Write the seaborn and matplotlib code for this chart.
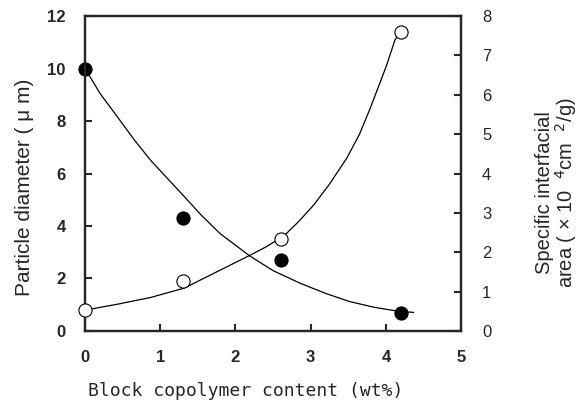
import numpy as np
import pandas as pd
import seaborn as sns
import matplotlib.pyplot as plt

# measured points
content = [0, 1.3, 2.6, 4.2]
diameter = [10.0, 4.3, 2.7, 0.7]            # left axis, um (filled)
area = [0.53, 1.27, 2.33, 7.6]              # right axis, x10^4 cm2/g (open)

# fitted curves
fit_d_x = [0, 0.2, 0.43, 0.65, 0.87, 1.1, 1.32, 1.55, 1.8, 2.19, 2.5,
           2.86, 3.2, 3.52, 3.85, 4.19, 4.37]
fit_d_y = [10.0, 9.05, 8.16, 7.3, 6.51, 5.8, 5.12, 4.4, 3.7, 2.86, 2.3,
           1.82, 1.43, 1.12, 0.9, 0.74, 0.71]
fit_a_x = [0, 0.43, 0.87, 1.32, 1.76, 2.2, 2.4, 2.59, 2.68, 2.85, 3.04,
           3.25, 3.48, 3.65, 3.79, 3.9, 4.01, 4.12, 4.17]
fit_a_y = [0.53, 0.68, 0.85, 1.09, 1.51, 1.93, 2.13, 2.35, 2.48, 2.8, 3.2,
           3.73, 4.39, 5.0, 5.65, 6.2, 6.75, 7.39, 7.53]

sns.set_style("ticks")
plt.rcParams['font.family'] = ['Liberation Sans', 'DejaVu Sans']

fig = plt.figure(figsize=(5.8, 4.01), dpi=100)
ax = fig.add_axes([0.1466, 0.1746, 0.6484, 0.7854])
ax2 = ax.twinx()

sns.lineplot(x=fit_d_x, y=fit_d_y, ax=ax, color="black", lw=0.9, zorder=2)
sns.lineplot(x=fit_a_x, y=fit_a_y, ax=ax2, color="black", lw=0.9, zorder=2)
sns.scatterplot(x=content, y=diameter, ax=ax, color="black", s=90,
                edgecolor="black", zorder=5, clip_on=False)
sns.scatterplot(x=content, y=area, ax=ax2, color="white", s=90,
                edgecolor="black", linewidth=0.8, zorder=5, clip_on=False)

ax.set_xlim(0, 5)
ax.set_ylim(0, 12)
ax2.set_ylim(0, 8)
ax.set_xticks(range(0, 6))
ax.set_yticks(range(0, 13, 2))
ax2.set_yticks(range(0, 9))

for a in (ax, ax2):
    for s in a.spines.values():
        s.set_linewidth(1.6)
        s.set_visible(True)
ax.tick_params(axis="both", direction="in", length=5, width=1.5,
               labelsize=12, pad=14)
ax2.tick_params(axis="y", direction="in", length=5, width=1.5,
                labelsize=12, pad=15)
for lab in ax.get_xticklabels() + ax.get_yticklabels():
    lab.set_fontweight("bold")

ax.set_xlabel("Block copolymer content (wt%)", fontsize=13,
              family="DejaVu Sans Mono")
ax.set_ylabel("Particle diameter ( \u03bc m)", fontsize=15)
ax2.set_ylabel("Specific interfacial\narea ( \u00d7 10  $^{4}$cm  $^{2}$/g)",
               fontsize=14.5, rotation=90, linespacing=1.0)

ax.xaxis.set_label_coords(0.426, -0.19)
ax.yaxis.set_label_coords(-0.162, 0.457)
ax2.yaxis.set_label_coords(1.255, 0.438)
for lab in (ax.xaxis.label, ax.yaxis.label, ax2.yaxis.label):
    lab.set_va("center")
    lab.set_ha("center")

fig.savefig("out.png", dpi=100)
